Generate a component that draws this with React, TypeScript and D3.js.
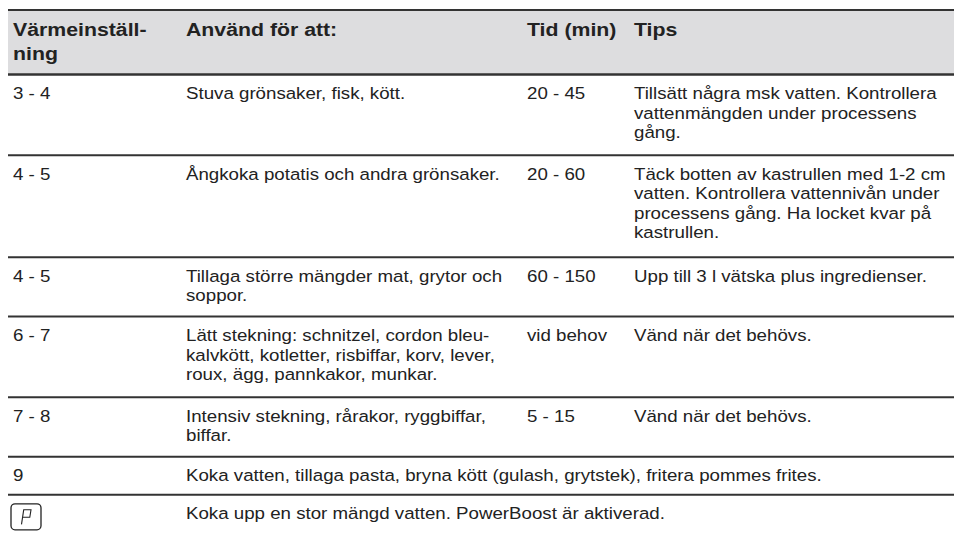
import React from 'react';
import * as d3 from 'd3';

// table content
const headers: string[][] = [['Värmeinställ-', 'ning'], ['Använd för att:'], ['Tid (min)'], ['Tips']];
const settings = ['3 - 4', '4 - 5', '4 - 5', '6 - 7', '7 - 8', '9', 'P'];
const uses: string[][] = [
    ['Stuva grönsaker, fisk, kött.'],
    ['Ångkoka potatis och andra grönsaker.'],
    ['Tillaga större mängder mat, grytor och', 'soppor.'],
    ['Lätt stekning: schnitzel, cordon bleu-', 'kalvkött, kotletter, risbiffar, korv, lever,', 'roux, ägg, pannkakor, munkar.'],
    ['Intensiv stekning, rårakor, ryggbiffar,', 'biffar.'],
    ['Koka vatten, tillaga pasta, bryna kött (gulash, grytstek), fritera pommes frites.'],
    ['Koka upp en stor mängd vatten. PowerBoost är aktiverad.'],
];
const times = ['20 - 45', '20 - 60', '60 - 150', 'vid behov', '5 - 15', '', ''];
const tips: string[][] = [
    ['Tillsätt några msk vatten. Kontrollera', 'vattenmängden under processens', 'gång.'],
    ['Täck botten av kastrullen med 1-2 cm', 'vatten. Kontrollera vattennivån under', 'processens gång. Ha locket kvar på', 'kastrullen.'],
    ['Upp till 3 l vätska plus ingredienser.'],
    ['Vänd när det behövs.'],
    ['Vänd när det behövs.'],
    [],
    [],
];

const W = 954;
const H = 541;
const FONT = '"Liberation Sans", Arial, Helvetica, sans-serif';
const INK = '#222';
const RULE = '#333';

const colX = d3.scaleOrdinal<number, number>().domain([0, 1, 2, 3]).range([13, 186, 527, 634]);

const headTop = 10;
const headBottom = 74.5;
const bodyPitch = 19.5;

const rowLines = settings.map((_, i) => Math.max(1, uses[i].length, tips[i].length));
const rowHeights = rowLines.map(n => 21.3 * n + 16.8);
const rowTops = [headBottom, ...Array.from(d3.cumsum(rowHeights)).map(v => headBottom + v)];

const Lines: React.FC<{ x: number; y: number; lines: string[]; size: number; pitch: number; bold?: boolean; sx: number }> = ({ x, y, lines, size, pitch, bold, sx }) => (
    <>
        {lines.map((t, k) => (
            <text key={k} transform={`translate(${x},${y + k * pitch}) scale(${sx},1)`}
                  fontFamily={FONT} fontSize={size} fontWeight={bold ? 700 : 400} fill={INK}>{t}</text>
        ))}
    </>
);

const PowerIcon: React.FC<{ x: number; y: number }> = ({ x, y }) => (
    <g transform={`translate(${x},${y})`}>
        <rect x={0} y={0} width={30} height={26} rx={4} fill="none" stroke={INK} strokeWidth={1.3} />
        <path d="M10.5,20.5 L12.7,6 L20,6 L18.8,13.5 L11.6,13.5" fill="none" stroke={INK} strokeWidth={1.1} />
    </g>
);

export default function App() {
    return (
        <svg width={W} height={H} style={{ position: 'absolute', left: 0, top: 0, background: '#fff' }}>
            <rect x={8} y={headTop} width={W - 8} height={headBottom - headTop} fill="#dddddf" />
            {headers.map((h, c) => (
                <Lines key={c} x={colX(c)} y={35.5} lines={h} size={19} pitch={24} bold sx={1.12} />
            ))}
            <line x1={8} x2={W} y1={headTop} y2={headTop} stroke={RULE} strokeWidth={2} />
            {rowTops.slice(0, settings.length).map((top, i) => (
                <g key={i}>
                    <line x1={8} x2={W} y1={top} y2={top} stroke={RULE} strokeWidth={i === 0 ? 2.5 : 2} />
                    {settings[i] === 'P'
                        ? <PowerIcon x={11} y={top + 9} />
                        : <Lines x={colX(0)} y={top + 24.5} lines={[settings[i]]} size={17} pitch={bodyPitch} sx={1.1} />}
                    <Lines x={colX(1)} y={top + 24.5} lines={uses[i]} size={17} pitch={bodyPitch} sx={1.1} />
                    {times[i] && <Lines x={colX(2)} y={top + 24.5} lines={[times[i]]} size={17} pitch={bodyPitch} sx={1.1} />}
                    <Lines x={colX(3)} y={top + 24.5} lines={tips[i]} size={17} pitch={bodyPitch} sx={1.1} />
                </g>
            ))}
        </svg>
    );
}
